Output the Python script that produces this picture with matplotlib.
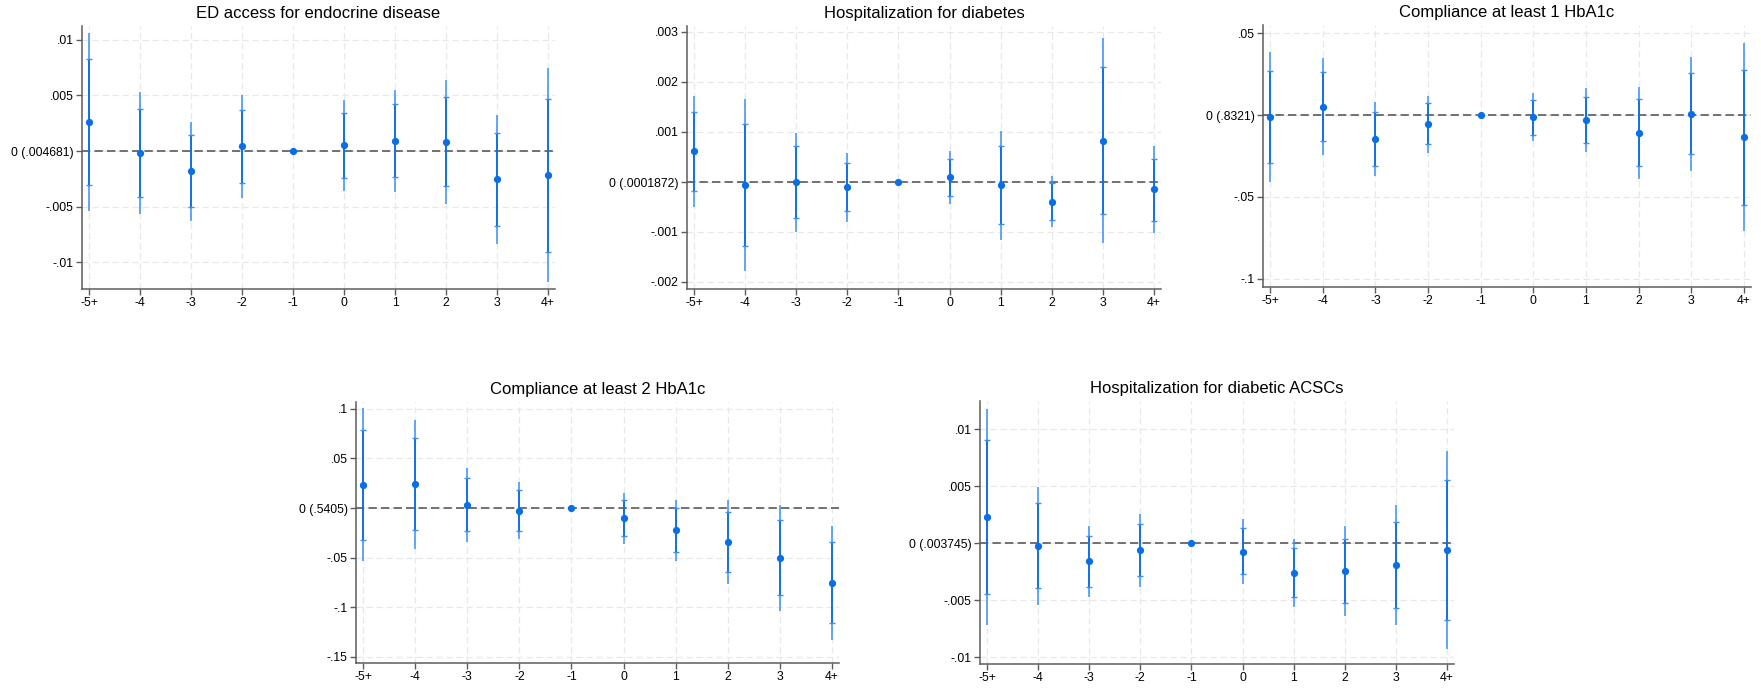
import numpy as np
import matplotlib
matplotlib.use("Agg")
import matplotlib.pyplot as plt

plt.rcParams["font.family"] = ["Liberation Sans", "DejaVu Sans"]

periods = ["-5+", "-4", "-3", "-2", "-1", "0", "1", "2", "3", "4+"]

# ED access for endocrine disease
ed_est  = [0.00262, -0.00018, -0.00184, 0.00042, 0.0, 0.00051, 0.00090, 0.00084, -0.00256, -0.00220]
ed_hi95 = [0.01060, 0.00530, 0.00265, 0.00503, 0.0, 0.00458, 0.00548, 0.00639, 0.00322, 0.00744]
ed_lo95 = [-0.00536, -0.00569, -0.00633, -0.00422, 0.0, -0.00361, -0.00367, -0.00473, -0.00840, -0.01184]
ed_hi90 = [0.00831, 0.00380, 0.00142, 0.00373, 0.0, 0.00340, 0.00419, 0.00482, 0.00160, 0.00470]
ed_lo90 = [-0.00307, -0.00413, -0.00503, -0.00289, 0.0, -0.00241, -0.00235, -0.00313, -0.00675, -0.00913]

# Hospitalization for diabetes
hd_est  = [0.000617, -0.000054, 0.0, -0.000094, 0.0, 0.000094, -0.000060, -0.000390, 0.000830, -0.000148]
hd_hi95 = [0.00173, 0.00167, 0.00099, 0.00058, 0.0, 0.00062, 0.00102, 0.000114, 0.00289, 0.00072]
hd_lo95 = [-0.000497, -0.00178, -0.00100, -0.00079, 0.0, -0.00044, -0.00115, -0.00090, -0.00123, -0.00101]
hd_hi90 = [0.00141, 0.00117, 0.00072, 0.00039, 0.0, 0.00047, 0.00072, -0.000013, 0.00231, 0.00047]
hd_lo90 = [-0.000174, -0.00128, -0.00071, -0.00058, 0.0, -0.00028, -0.00084, -0.00075, -0.00064, -0.00077]

# Compliance at least 1 HbA1c
c1_est  = [-0.0012, 0.0051, -0.0148, -0.0055, 0.0, -0.0014, -0.0030, -0.0109, 0.0008, -0.0134]
c1_hi95 = [0.0383, 0.0346, 0.0077, 0.0119, 0.0, 0.0132, 0.0164, 0.0172, 0.0352, 0.0437]
c1_lo95 = [-0.0409, -0.0243, -0.0370, -0.0231, 0.0, -0.0160, -0.0225, -0.0393, -0.0340, -0.0709]
c1_hi90 = [0.0271, 0.0265, 0.0016, 0.0073, 0.0, 0.0093, 0.0109, 0.0095, 0.0257, 0.0275]
c1_lo90 = [-0.0294, -0.0160, -0.0308, -0.0178, 0.0, -0.0119, -0.0170, -0.0312, -0.0239, -0.0547]

# Compliance at least 2 HbA1c
c2_est  = [0.0233, 0.0240, 0.0030, -0.0027, 0.0, -0.0098, -0.0223, -0.0341, -0.0500, -0.0753]
c2_hi95 = [0.1007, 0.0889, 0.0402, 0.0267, 0.0, 0.0155, 0.0078, 0.0078, 0.0034, -0.0179]
c2_lo95 = [-0.0537, -0.0416, -0.0341, -0.0314, 0.0, -0.0361, -0.0530, -0.0767, -0.1037, -0.1331]
c2_hi90 = [0.0784, 0.0706, 0.0301, 0.0182, 0.0, 0.0084, 0.0000, -0.0037, -0.0118, -0.0341]
c2_lo90 = [-0.0318, -0.0226, -0.0233, -0.0233, 0.0, -0.0280, -0.0439, -0.0645, -0.0882, -0.1162]

# Hospitalization for diabetic ACSCs
ac_est  = [0.00227, -0.00023, -0.00160, -0.00064, 0.0, -0.00076, -0.00259, -0.00248, -0.00192, -0.00064]
ac_hi95 = [0.01175, 0.00496, 0.00152, 0.00259, 0.0, 0.00210, 0.00038, 0.00146, 0.00335, 0.00805]
ac_lo95 = [-0.00720, -0.00545, -0.00475, -0.00388, 0.0, -0.00359, -0.00560, -0.00641, -0.00717, -0.00930]
ac_hi90 = [0.00901, 0.00347, 0.00061, 0.00169, 0.0, 0.00131, -0.00044, 0.00032, 0.00184, 0.00554]
ac_lo90 = [-0.00443, -0.00394, -0.00382, -0.00292, 0.0, -0.00274, -0.00469, -0.00528, -0.00566, -0.00676]

titles = ["ED access for endocrine disease", "Hospitalization for diabetes",
          "Compliance at least 1 HbA1c", "Compliance at least 2 HbA1c",
          "Hospitalization for diabetic ACSCs"]
yticks = [[0.01, 0.005, 0, -0.005, -0.01],
          [0.003, 0.002, 0.001, 0, -0.001, -0.002],
          [0.05, 0, -0.05, -0.1],
          [0.1, 0.05, 0, -0.05, -0.1, -0.15],
          [0.01, 0.005, 0, -0.005, -0.01]]
ylabels = [[".01", ".005", "0 (.004681)", "-.005", "-.01"],
           [".003", ".002", ".001", "0 (.0001872)", "-.001", "-.002"],
           [".05", "0 (.8321)", "-.05", "-.1"],
           [".1", ".05", "0 (.5405)", "-.05", "-.1", "-.15"],
           [".01", ".005", "0 (.003745)", "-.005", "-.01"]]
ylims = [(-0.01243, 0.01126), (-0.00214, 0.00312), (-0.1049, 0.0549),
         (-0.1563, 0.1069), (-0.01061, 0.01246)]
series = [(ed_est, ed_lo95, ed_hi95, ed_lo90, ed_hi90),
          (hd_est, hd_lo95, hd_hi95, hd_lo90, hd_hi90),
          (c1_est, c1_lo95, c1_hi95, c1_lo90, c1_hi90),
          (c2_est, c2_lo95, c2_hi95, c2_lo90, c2_hi90),
          (ac_est, ac_lo95, ac_hi95, ac_lo90, ac_hi90)]

W, H = 1761, 691
# axes boxes in pixels: left, right, top, bottom
boxes = [(82, 555, 26, 289), (687, 1161, 26, 289), (1263, 1751, 25, 287),
         (356, 839, 402, 663), (980, 1454, 401, 664)]

PT_COL = "#0a6ee6"
LN_COL = "#3a8ef6"
SPINE = "#5c5c5c"

fig = plt.figure(figsize=(W / 100, H / 100), dpi=100)
x = np.arange(len(periods))

for i, (l, r, t, b) in enumerate(boxes):
    ax = fig.add_axes([l / W, 1 - b / H, (r - l) / W, (b - t) / H])
    est, lo95, hi95, lo90, hi90 = series[i]

    ax.grid(True, color="#e8e8e8", linestyle=(0, (5, 3)), linewidth=0.9)
    ax.set_axisbelow(True)
    ax.axhline(0, color="#5a5a5a", linestyle=(0, (5, 2.5)), linewidth=1.2, zorder=2)

    ax.vlines(x, lo95, hi95, color=LN_COL, linewidth=1.1, zorder=3)
    ax.vlines(x, lo90, hi90, color=PT_COL, linewidth=1.3, zorder=3)
    ax.plot(x, hi90, linestyle="none", marker="_", markersize=4, mew=1.0, color=LN_COL, zorder=4)
    ax.plot(x, lo90, linestyle="none", marker="_", markersize=4, mew=1.0, color=LN_COL, zorder=4)
    ax.plot(x, est, linestyle="none", marker="o", markersize=4.2, color=PT_COL, zorder=5)

    ax.set_xlim(-0.137, len(periods) - 1 + 0.137)
    ax.set_ylim(*ylims[i])
    ax.set_xticks(x)
    ax.set_xticklabels(periods)
    ax.set_yticks(yticks[i])
    ax.set_yticklabels(ylabels[i])
    ax.tick_params(axis="both", labelsize=8.8, length=4, width=1, color=SPINE, pad=2)

    for s in ["top", "right"]:
        ax.spines[s].set_visible(False)
    for s in ["left", "bottom"]:
        ax.spines[s].set_color(SPINE)
        ax.spines[s].set_linewidth(1.1)

    ax.set_title(titles[i], fontsize=12, pad=6)

fig.savefig("out.png", dpi=100, facecolor="white")
